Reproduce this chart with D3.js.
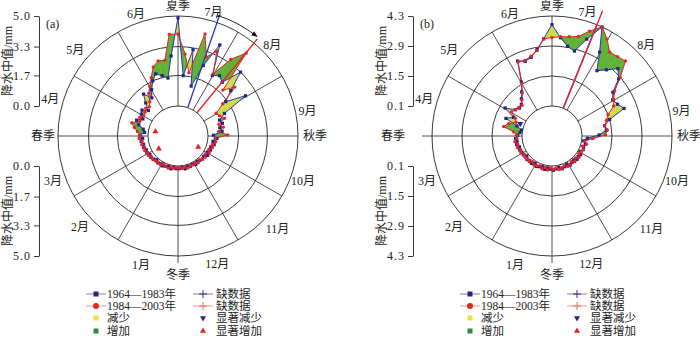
<!DOCTYPE html>
<html lang="zh">
<head>
<meta charset="UTF-8">
<title>降水中值</title>
<style>
body { margin: 0; background: #fff; }
svg text { font-family: "Liberation Serif", "Noto Sans CJK SC", serif; fill: #222; }
.grid { fill: none; stroke: #222; stroke-width: 0.9; }
.spoke { stroke: #222; stroke-width: 0.8; }
.axis path, .axis line { stroke: #222; stroke-width: 0.9; }
.axis text { font-size: 12px; letter-spacing: 1px; fill: #222; }
</style>
</head>
<body>
<script src="https://cdn.jsdelivr.net/npm/d3@7/dist/d3.min.js"></script>
<script>
// 73 pentads, index 0 = first pentad of January
const N = 73;
const monthNames = ['1月','2月','3月','4月','5月','6月','7月','8月','9月','10月','11月','12月'];
const seasonNames = ['冬季','春季','夏季','秋季'];
const periodNames = ['1964—1983年','1984—2003年'];
const yLabel = '降水中值/mm';

// panel (a)
const ticksA = [0.0, 1.7, 3.3, 5.0];
const earlyA = [0.15,0.1,0.2,0.1,0.15,0.2, 0.15,0.2,0.1,0.2,0.25,0.2,
  0.3,0.25,0.35,0.3,0.4,0.3, 0.45,0.2,0.3,0.6,0.8,0.5,
  0.7,0.8,0.5,0.9,1.35,0.9, 1.3,1.7,2.0,1.8,1.6,2.8,
  4.9,1.7,3.2,1.2,2.5,3.9, 2.2,2.4,2.2,3.3,2.2,1.6,
  2.7,1.2,0.8,0.9,0.7,0.8, 0.3,0.5,0.3,0.4,0.25,0.3,
  0.2,0.3,0.15,0.2,0.15,0.1, 0.2,0.1,0.15,0.1,0.2,0.1,0.15];
const lateA = [0.1,0.15,0.1,0.2,0.15,0.1, 0.2,0.15,0.2,0.25,0.2,0.3,
  0.25,0.35,0.3,0.4,0.35,0.5, 0.4,0.6,0.8,1.0,0.6,0.7,
  0.55,0.6,0.7,0.6,0.8,1.2, 1.5,1.9,2.4,2.65,2.6,4.0,
  4.0,2.9,1.9,4.2,3.0,3.5, 2.3,3.5,4.3,1.9,2.5,1.4,
  0.8,0.9,1.1,0.7,0.9,0.6, 1.1,0.4,0.45,0.3,0.35,0.2,
  0.3,0.15,0.25,0.2,0.1,0.2, 0.1,0.15,0.1,0.2,0.1,0.15,0.1];
const sigUpA = [11, 20, 60];
const sigDownA = [];
const centreA = [40.35, 44.46];   // concentration period (pentad position): early, late
const centreLenA = [5.45, 5.3];

// panel (b)
const ticksB = [0.1, 1.5, 2.9, 4.3];
const earlyB = [0.25,0.2,0.3,0.2,0.25,0.3, 0.2,0.3,0.25,0.3,0.2,0.3,
  0.3,0.35,0.3,0.4,0.35,0.4, 0.3,0.2,0.15,0.4,1.0,0.7,
  1.25,0.8,0.7,0.75,0.95,1.2, 1.6,2.55,2.4,2.5,2.8,3.25,
  3.9,3.3,2.95,2.8,3.5,4.3, 3.2,2.4,2.7,3.1,2.8,2.2,
  2.0,2.1,2.3,1.5,1.2,1.25, 0.9,0.35,0.2,0.3,0.25,0.3,
  0.2,0.3,0.25,0.3,0.2,0.25, 0.3,0.2,0.25,0.3,0.2,0.25,0.3];
const lateB = [0.2,0.3,0.2,0.3,0.2,0.25, 0.3,0.2,0.3,0.25,0.3,0.25,
  0.35,0.3,0.4,0.35,0.45,0.35, 0.35,0.5,1.0,0.8,0.5,0.6,
  0.9,0.8,0.75,0.7,0.9,1.15, 1.55,2.5,2.45,2.55,2.75,3.25,
  3.3,3.35,3.4,3.5,3.9,4.3, 3.9,3.45,3.5,3.6,2.9,2.3,
  2.05,1.9,1.5,1.35,1.2,1.3, 1.2,0.6,0.25,0.35,0.2,0.3,
  0.25,0.2,0.3,0.2,0.3,0.2, 0.25,0.3,0.2,0.25,0.3,0.2,0.25];
const sigUpB = [];
const sigDownB = [22];
const centreB = [40.96, 40.96];
const centreLenB = [4.3, 5.0];

// where the month names sit (degrees clockwise from top, radius in px)
const monthLabelAngle = [196, 227, 250, 286, 310, 341, 16, 46, 79, 110, 133, 163];
const monthLabelR = [134, 134, 133, 133, 134, 129, 129, 131, 132, 133, 136, 134];

const colEarly = '#2f36b8', colLate = '#e4262a';
const colLess = '#cddc48', colMore = '#5fb137';

const svg = d3.select('body').append('svg')
    .attr('width', 700).attr('height', 338);

const deg = d => d * Math.PI / 180;
const ang = i => Math.PI + (i + 0.5) * 2 * Math.PI / N;
const angP = p => Math.PI + p * 2 * Math.PI / N;

function cross(a, b, c, d) {
    let den = (a[0] - b[0]) * (c[1] - d[1]) - (a[1] - b[1]) * (c[0] - d[0]);
    let t = ((a[0] - c[0]) * (c[1] - d[1]) - (a[1] - c[1]) * (c[0] - d[0])) / den;
    return [a[0] + t * (b[0] - a[0]), a[1] + t * (b[1] - a[1])];
}

function panel(cfg) {
    let cx = cfg.cx, cy = cfg.cy;
    let g = svg.append('g').attr('transform', `translate(${cx},${cy})`);
    let r = d3.scaleLinear().domain([cfg.ticks[0], cfg.ticks[3]]).range([30, 120]);

    // grid
    g.selectAll('.grid').data(cfg.ticks).enter().append('circle')
        .attr('class', 'grid').attr('r', d => r(d));
    g.selectAll('.spoke').data(d3.range(0, 360, 30)).enter().append('line')
        .attr('class', 'spoke')
        .attr('stroke', d => d === 180 ? '#f0a23a' : d === 0 ? '#555' : '#222')
        .attr('stroke-width', d => d === 180 ? 2 : d % 90 === 0 ? 1.2 : 0.8)
        .attr('x1', d => d3.pointRadial(deg(d), 30)[0])
        .attr('y1', d => d3.pointRadial(deg(d), 30)[1])
        .attr('x2', d => d3.pointRadial(deg(d), d === 180 ? 127 : d === 270 ? cfg.springLen : 120)[0])
        .attr('y2', d => d3.pointRadial(deg(d), d === 180 ? 127 : d === 270 ? cfg.springLen : 120)[1]);

    // fills between the two periods
    let pe = cfg.early.map((v, i) => d3.pointRadial(ang(i), r(v)));
    let pl = cfg.late.map((v, i) => d3.pointRadial(ang(i), r(v)));
    let polys = [];
    for (let i = 0; i < N; i++) {
        let k = (i + 1) % N;
        let d0 = cfg.late[i] - cfg.early[i], d1 = cfg.late[k] - cfg.early[k];
        if (d0 * d1 >= 0) {
            let s = d0 !== 0 ? d0 : d1;
            if (s !== 0) polys.push({pts: [pe[i], pe[k], pl[k], pl[i]], up: s > 0});
        } else {
            let P = cross(pe[i], pe[k], pl[i], pl[k]);
            polys.push({pts: [pe[i], P, pl[i]], up: d0 > 0});
            polys.push({pts: [P, pe[k], pl[k]], up: d1 > 0});
        }
    }
    g.selectAll('.fill').data(polys).enter().append('path')
        .attr('class', 'fill')
        .attr('d', d => d3.line()(d.pts) + 'Z')
        .attr('fill', d => d.up ? colMore : colLess)
        .attr('stroke', d => d.up ? colMore : colLess)
        .attr('stroke-width', 0.4);

    let line = d3.lineRadial().angle((d, i) => ang(i)).radius(d => r(d)).curve(d3.curveLinearClosed);
    g.append('path').attr('d', line(cfg.early)).attr('fill', 'none')
        .attr('stroke', colEarly).attr('stroke-width', 1);
    g.append('path').attr('d', line(cfg.late)).attr('fill', 'none')
        .attr('stroke', colLate).attr('stroke-width', 1);

    g.selectAll('.me').data(pe).enter().append('rect')
        .attr('x', d => d[0] - 1.6).attr('y', d => d[1] - 1.6)
        .attr('width', 3.2).attr('height', 3.2).attr('fill', '#23238a');
    g.selectAll('.ml').data(pl).enter().append('circle')
        .attr('cx', d => d[0]).attr('cy', d => d[1]).attr('r', 1.7).attr('fill', colLate);

    // concentration period lines (early first, late on top)
    [0, 1].forEach(s => {
        let a = angP(cfg.centre[s]);
        let p0 = d3.pointRadial(a, 30), p1 = d3.pointRadial(a, r(cfg.centreLen[s]));
        g.append('line').attr('x1', p0[0]).attr('y1', p0[1]).attr('x2', p1[0]).attr('y2', p1[1])
            .attr('stroke', s ? colLate : colEarly).attr('stroke-width', 1.4);
    });

    if (cfg.arrow) {
        let a0 = angP(cfg.centre[0]) - deg(1), a1 = angP(cfg.centre[1]) - deg(1), R = 127;
        let s0 = d3.pointRadial(a0, R), s1 = d3.pointRadial(a1, R);
        g.append('path')
            .attr('d', `M${s0[0]},${s0[1]}A${R},${R} 0 0 1 ${s1[0]},${s1[1]}`)
            .attr('fill', 'none').attr('stroke', '#111').attr('stroke-width', 0.9)
            .attr('marker-end', 'url(#arrow)');
        let t0 = d3.pointRadial(a0, R - 3), t1 = d3.pointRadial(a0, R + 3);
        g.append('line').attr('x1', t0[0]).attr('y1', t0[1]).attr('x2', t1[0]).attr('y2', t1[1])
            .attr('stroke', '#111').attr('stroke-width', 0.9);
    }

    // significance markers
    let tri = d3.symbol().type(d3.symbolTriangle).size(16);
    g.selectAll('.up').data(cfg.sigUp).enter().append('path')
        .attr('d', tri)
        .attr('fill', '#e02424')
        .attr('transform', d => { let p = d3.pointRadial(ang(d), cfg.sigR); return `translate(${p[0]},${p[1]})`; });
    g.selectAll('.down').data(cfg.sigDown).enter().append('path')
        .attr('d', tri)
        .attr('fill', '#26267a')
        .attr('transform', d => { let p = d3.pointRadial(ang(d), cfg.sigR); return `translate(${p[0]},${p[1]}) rotate(180)`; });

    // month labels
    g.selectAll('.mon').data(monthNames).enter().append('text')
        .attr('x', (d, i) => d3.pointRadial(deg(monthLabelAngle[i]), monthLabelR[i])[0])
        .attr('y', (d, i) => d3.pointRadial(deg(monthLabelAngle[i]), monthLabelR[i])[1])
        .attr('text-anchor', 'middle').attr('dominant-baseline', 'central')
        .attr('font-size', 12).text(d => d);

    // season labels
    g.append('text').attr('x', 0).attr('y', -cy + 6).attr('text-anchor', 'middle')
        .attr('dominant-baseline', 'central').attr('font-size', 12).text(seasonNames[2]);
    g.append('text').attr('x', 125).attr('y', 0).attr('text-anchor', 'start')
        .attr('dominant-baseline', 'central').attr('font-size', 12).text(seasonNames[3]);
    g.append('text').attr('x', 0).attr('y', 139).attr('text-anchor', 'middle')
        .attr('dominant-baseline', 'central').attr('font-size', 12).text(seasonNames[0]);
    g.append('text').attr('x', -cfg.springText).attr('y', 0).attr('text-anchor', 'end')
        .attr('dominant-baseline', 'central').attr('font-size', 12).text(seasonNames[1]);

    // radial value axes on the left
    let fmt = d3.format('.1f');
    let yt = d3.scaleLinear().domain([cfg.ticks[0], cfg.ticks[3]]).range([cy - 30, cy - 120]);
    let yb = d3.scaleLinear().domain([cfg.ticks[0], cfg.ticks[3]]).range([cy + 30, cy + 120]);
    [yt, yb].forEach(sc => {
        svg.append('g').attr('class', 'axis')
            .attr('transform', `translate(${cx - 139},0)`)
            .call(d3.axisLeft(sc).tickValues(cfg.ticks).tickFormat(fmt).tickSize(5).tickSizeOuter(0))
            .call(a => a.selectAll('text').attr('font-family', '"Liberation Serif", serif'));
    });
    [cy - 75, cy + 75].forEach(y => {
        svg.append('text').attr('transform', `translate(${cx - 170},${y}) rotate(-90)`)
            .attr('text-anchor', 'middle').attr('dominant-baseline', 'central')
            .attr('font-size', 12).text(yLabel);
    });
    svg.append('text').attr('x', cx - 132).attr('y', 24).attr('font-size', 12)
        .attr('dominant-baseline', 'central').text(cfg.tag);

    // legend
    let lg = svg.append('g').attr('transform', `translate(${cx},${cy})`);
    let rows = [158, 170, 182, 195];
    let colL = -82, colR = 25;
    [[colEarly, '#9d90cc', 'sq'], [colLate, '#f3a8a8', 'ci']].forEach((c, i) => {
        lg.append('line').attr('x1', colL - 10).attr('x2', colL + 10)
            .attr('y1', rows[i]).attr('y2', rows[i]).attr('stroke', c[1]).attr('stroke-width', 1.2);
        if (c[2] === 'sq') lg.append('rect').attr('x', colL - 2.5).attr('y', rows[i] - 2.5)
            .attr('width', 5).attr('height', 5).attr('fill', '#2b2478');
        else lg.append('circle').attr('cx', colL).attr('cy', rows[i]).attr('r', 3).attr('fill', '#e0281c');
        lg.append('text').attr('x', colL + 11).attr('y', rows[i]).attr('dominant-baseline', 'central')
            .attr('font-size', 11.5).text(periodNames[i]);
        // missing data
        lg.append('line').attr('x1', colR - 10).attr('x2', colR + 10)
            .attr('y1', rows[i]).attr('y2', rows[i]).attr('stroke', c[1]).attr('stroke-width', 1.2);
        lg.append('path').attr('d', `M${colR},${rows[i] - 4}V${rows[i] + 4}M${colR - 4},${rows[i]}H${colR + 4}`)
            .attr('stroke', i ? '#ee6a6a' : '#3a2f8c').attr('stroke-width', 1);
        lg.append('text').attr('x', colR + 13).attr('y', rows[i]).attr('dominant-baseline', 'central')
            .attr('font-size', 11.5).text('缺数据');
    });
    [['#ece23a', '减少'], ['#2f8a3a', '增加']].forEach((c, i) => {
        lg.append('rect').attr('x', colL - 2.5).attr('y', rows[i + 2] - 2.5)
            .attr('width', 5).attr('height', 5).attr('fill', c[0]);
        lg.append('text').attr('x', colL + 11).attr('y', rows[i + 2]).attr('dominant-baseline', 'central')
            .attr('font-size', 11.5).text(c[1]);
    });
    lg.append('path').attr('d', tri).attr('fill', '#26267a')
        .attr('transform', `translate(${colR},${rows[2]}) rotate(180)`);
    lg.append('text').attr('x', colR + 13).attr('y', rows[2]).attr('dominant-baseline', 'central')
        .attr('font-size', 11.5).text('显著减少');
    lg.append('path').attr('d', tri).attr('fill', '#e02424')
        .attr('transform', `translate(${colR},${rows[3]})`);
    lg.append('text').attr('x', colR + 13).attr('y', rows[3]).attr('dominant-baseline', 'central')
        .attr('font-size', 11.5).text('显著增加');
}

svg.append('defs').append('marker')
    .attr('id', 'arrow').attr('viewBox', '0 0 10 10').attr('refX', 8).attr('refY', 5)
    .attr('markerWidth', 7).attr('markerHeight', 7).attr('orient', 'auto')
    .append('path').attr('d', 'M0,1L10,5L0,9Z').attr('fill', '#111');

panel({cx: 178, cy: 136, ticks: ticksA, early: earlyA, late: lateA, sigUp: sigUpA, sigDown: sigDownA,
    centre: centreA, centreLen: centreLenA, arrow: true, tag: '(a)', sigR: 23,
    springLen: 120, springText: 123});
panel({cx: 552, cy: 136, ticks: ticksB, early: earlyB, late: lateB, sigUp: sigUpB, sigDown: sigDownB,
    centre: centreB, centreLen: centreLenB, arrow: false, tag: '(b)', sigR: 34,
    springLen: 130, springText: 147});
</script>
</body>
</html>
